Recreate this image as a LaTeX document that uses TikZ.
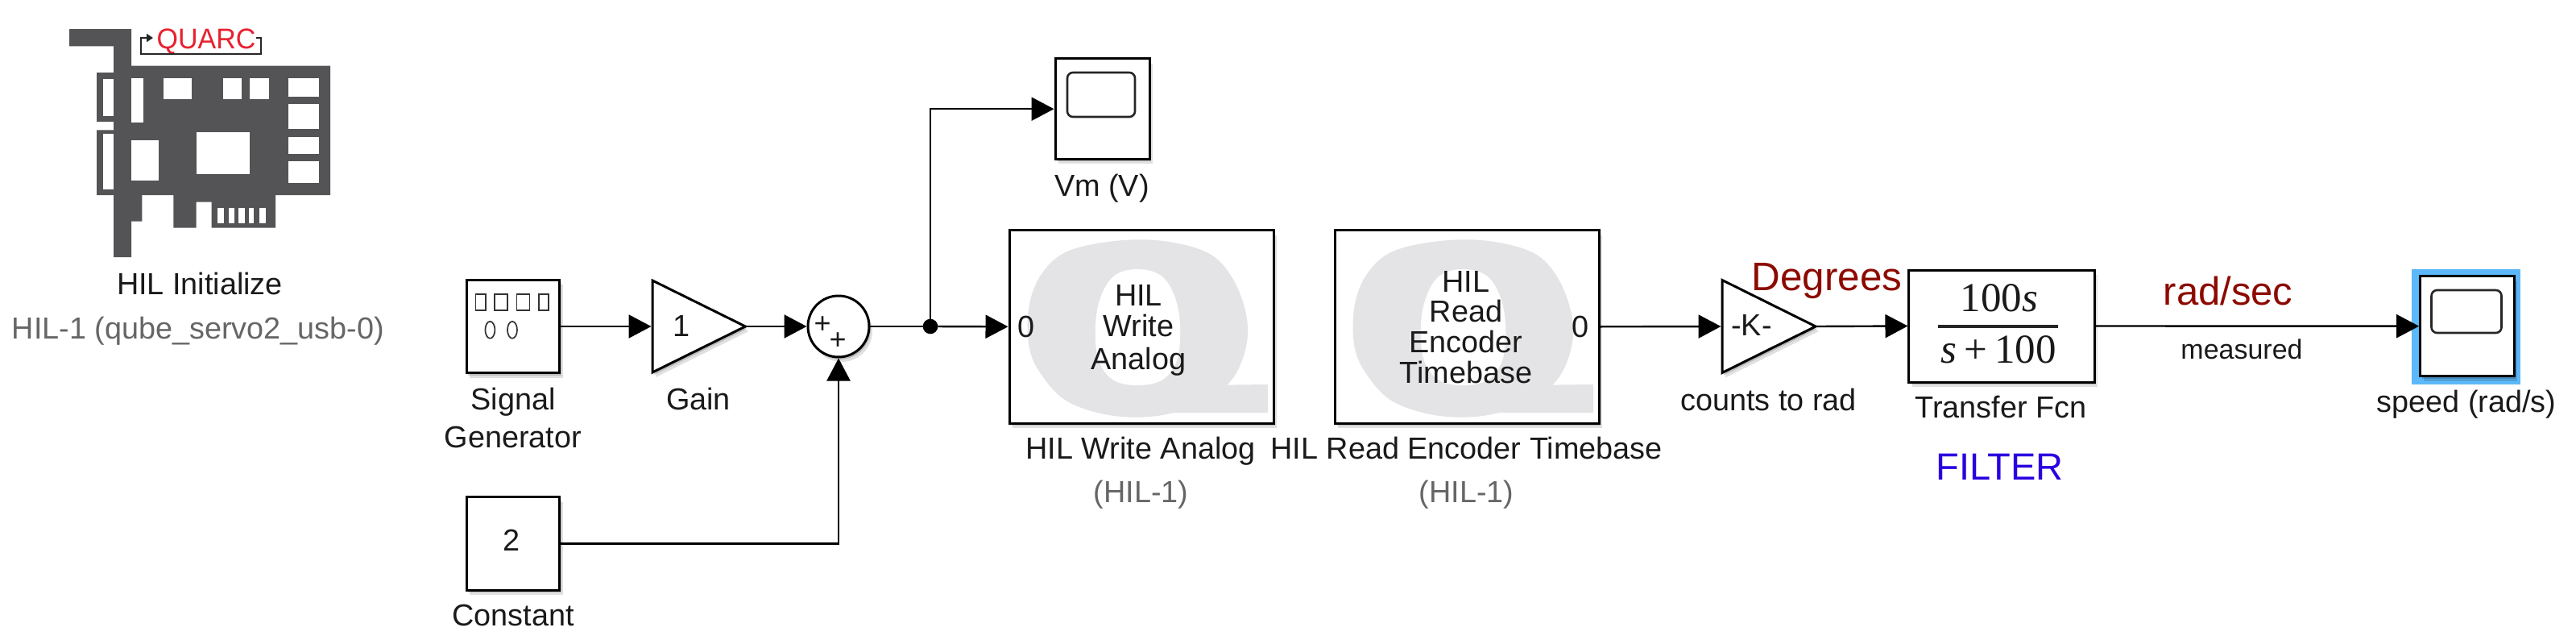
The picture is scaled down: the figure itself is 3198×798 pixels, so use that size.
\documentclass[tikz,border=0pt]{standalone}
\usepackage{fontspec}
\setmainfont{Liberation Sans}
\newfontfamily\serifnum{Liberation Serif}
\usetikzlibrary{arrows.meta,shapes.geometric,shadows}
\definecolor{txt}{HTML}{1A1A1A}
\definecolor{lab}{HTML}{666666}
\definecolor{card}{HTML}{545456}
\definecolor{qgrey}{HTML}{E4E4E6}
\definecolor{dred}{HTML}{8C0A00}
\definecolor{fblue}{HTML}{2A00E0}
\definecolor{sel}{HTML}{5CB8F8}
\definecolor{qred}{HTML}{E8202F}
\newcommand{\fsz}[1]{\fontsize{#1}{#1}\selectfont}
\newcommand{\qlogo}{%
  \fill[qgrey] plot[smooth cycle,tension=.6] coordinates {(1384,299)(1444,299)(1500,314)(1530,345)(1547,390)(1547,430)(1530,470)(1495,498)(1440,515.5)(1380,515.5)(1325,498)(1293,465)(1277.5,430)(1277.5,380)(1293,340)(1325,312)};
  \fill[qgrey] (1490,478)--(1574,477)--(1574,512)--(1430,512)--cycle;
  \fill[white] plot[smooth cycle,tension=.6] coordinates {(1412,334)(1445,345)(1463,385)(1463,440)(1445,470)(1412,478)(1380,470)(1362,440)(1362,385)(1380,345)};}
\tikzset{
  softshadow/.style={general shadow={fill=black,opacity=.16,shadow xshift=2pt,shadow yshift=-3pt},
                     general shadow={fill=black,opacity=.12,shadow xshift=4pt,shadow yshift=-6pt}},
  blockbox/.style={draw=black,fill=white,line width=3pt,inner sep=0pt,outer sep=0pt,softshadow},
  trianglebox/.style={blockbox,isosceles triangle,isosceles triangle stretches,shape border rotate=0,anchor=lower side},
  screenbox/.style={draw=black!85,line width=2.6pt,rounded corners=7pt,inner sep=0pt,outer sep=0pt},
  wire/.style={line width=2.4pt,draw=black},
  arrowwire/.style={wire,-{Triangle[length=28pt,width=29pt]},shorten >=1.5pt},
  caption/.style={font=\fsz{37.8},text=txt,anchor=base,inner sep=0pt,outer sep=0pt},
  capgrey/.style={caption,text=lab},
  glyph/.style={draw=black!80,line width=1.7pt},
  hole/.style={fill=white},
}
\begin{document}
\begin{tikzpicture}[x=1pt,y=-1pt]
\useasboundingbox (0,0) rectangle (3198,798);
% ---------- HIL card icon
\fill[card] (86,36)--(163,36)--(163,81.7)--(410,81.7)--(410,242)--(342,242)--(342,282.7)--(262.5,282.7)
  --(262.5,250.7)--(243.6,250.7)--(243.6,282.7)--(215.4,282.7)--(215.4,242)--(176.4,242)--(176.4,274.7)
  --(163,274.7)--(163,319)--(141,319)--(141,242)--(120,242)--(120,161.3)--(141,161.3)--(141,151)
  --(120,151)--(120,90)--(141,90)--(141,57.3)--(86,57.3)--cycle;
\foreach \a/\b/\c/\d in {128/97.7/141/144,128/166/141/235.3,163/96.7/177.5/152.3,203/96.7/238/123.3,
  277/96.7/300/123.3,310/96.7/333.6/123.3,358/96.7/396.4/120,358/128.7/396.4/160,358/169.7/396.4/191,
  358/200.3/396.4/227.3,244.3/163.7/310.4/216.3,163/174/196.8/224.3,269.6/258.3/277.5/277.3,
  284/258.3/291/277.3,296.4/258.3/303.6/277.3,309/258.3/315/277.3,322/258.3/329.6/277.3}
  {\fill[hole] (\a,\b) rectangle (\c,\d);}
\node[font=\fsz{34},text=qred,anchor=base,inner sep=0pt,yscale=1.04] (quarc) at (256,60) {QUARC};
\coordinate (qa) at (318,47);
\coordinate (qb) at (190,47);
\draw[line width=1.8pt,draw=black!85,-{Triangle[length=8pt,width=10pt]}] (qa)--(324,47)--(324,67)--(174.6,67)--(174.6,47)--(qb);
\node[caption] (hilinit) at (248,365) {HIL Initialize};
\node[capgrey] (hilsub) at (246,420) {HIL-1 (qube\_servo2\_usb-0)};
% ---------- Blocks
\node[blockbox,minimum width=115.6pt,minimum height=115.4pt] (sig) at (636.8,405) {};
\foreach \a/\b in {590.5/603,614/630,641.4/657.5,668.7/681}
  {\draw[glyph] (\a,365) rectangle (\b,385);}
\draw[glyph] (608.4,409.3) ellipse [x radius=6,y radius=10.5];
\draw[glyph] (636,409.3) ellipse [x radius=6,y radius=10.5];
\node[trianglebox,minimum width=114pt,minimum height=115.4pt] (gain) at (810,405) {};
\node[caption] (gainval) at (846,417) {1};
\node[blockbox,circle,minimum size=76pt] (sum) at (1041,405) {};
\node[font=\fsz{36},text=txt,inner sep=0pt] (p1) at (1021,403) {+};
\node[font=\fsz{36},text=txt,inner sep=0pt] (p2) at (1040,423) {+};
\node[blockbox,minimum width=115.6pt,minimum height=115.6pt] (con) at (636.8,674.5) {};
\node[caption] (conval) at (635,683) {2};
\node[blockbox,minimum width=117pt,minimum height=124.5pt] (vm) at (1368.5,135.2) {};
\node[screenbox,minimum width=84pt,minimum height=55pt] (vmscreen) at (1367,117.5) {};
\node[blockbox,minimum width=328pt,minimum height=239.4pt] (hw) at (1417,405.3) {};
\qlogo
\node[blockbox,minimum width=328pt,minimum height=239.4pt] (hr) at (1821,405.3) {};
\begin{scope}[shift={(404,0)}]\qlogo\end{scope}
\node[caption] (hw0) at (1273.5,418) {0};
\node[caption] (hwl1) at (1413.5,379.5) {HIL};
\node[caption] (hwl2) at (1413.5,417) {Write};
\node[caption] (hwl3) at (1413.5,458) {Analog};
\node[caption] (hr0) at (1962,418) {0};
\node[caption] (hrl1) at (1820,362) {HIL};
\node[caption] (hrl2) at (1820,399.4) {Read};
\node[caption] (hrl3) at (1820,437.7) {Encoder};
\node[caption] (hrl4) at (1820,475) {Timebase};
\node[trianglebox,minimum width=115pt,minimum height=116pt] (kgain) at (2138,405) {};
\node[caption] (kval) at (2174.5,416.7) {-K-};
\node[blockbox,minimum width=230.5pt,minimum height=139pt] (tf) at (2485.2,404.5) {};
\node[anchor=base,inner sep=0pt,font=\serifnum\fsz{51},text=txt] (num) at (2482,386.7) {100\textit{s}};
\node[anchor=base,inner sep=0pt,font=\serifnum\fsz{51},text=txt] (den) at (2481,450) {\textit{s}\hspace{9pt}+\hspace{9pt}100};
\coordinate (fa) at (2406,405);
\coordinate (fb) at (2555,405);
\draw[line width=4.2pt,draw=black!85] (fa)--(fb);
\fill[sel] (2994,334) rectangle (3129,477);
\node[blockbox,minimum width=116.4pt,minimum height=124pt] (sp) at (3062.8,404.7) {};
\node[screenbox,minimum width=87pt,minimum height=53pt] (spscreen) at (3062,386.5) {};
% ---------- Connectors
\node[circle,fill=black,inner sep=0pt,outer sep=0pt,minimum size=18.6pt] (jn) at (1155,405) {};
\draw[arrowwire] (sig.east)--(gain.lower side);
\draw[arrowwire] (gain.apex)--(sum.west);
\draw[wire] (sum.east)--(jn);
\draw[arrowwire] (jn)--(hw.west);
\draw[arrowwire] (jn.center)|-(vm.west);
\draw[arrowwire] (con.east)-|(sum.south);
\draw[arrowwire] (hr.east)--(kgain.lower side);
\draw[arrowwire] (kgain.apex)--(tf.west);
\draw[arrowwire] (tf.east)--(sp.west);
% ---------- Labels
\node[caption] (siglab) at (637,508) {Signal};
\node[caption] (siglab2) at (637,555) {Generator};
\node[caption] (gainlab) at (867,508) {Gain};
\node[caption] (conlab) at (637,776.7) {Constant};
\node[caption] (vmlab) at (1368,243.5) {Vm (V)};
\node[caption] (hwlab) at (1416,569) {HIL Write Analog};
\node[capgrey] (hwsub) at (1416.5,623) {(HIL-1)};
\node[caption] (hrlab) at (1820.6,569) {HIL Read Encoder Timebase};
\node[capgrey] (hrsub) at (1820.6,623) {(HIL-1)};
\node[caption] (klab) at (2195.7,509) {counts to rad};
\node[caption] (tflab) at (2484,518) {Transfer Fcn};
\node[caption] (splab) at (3062,511.7) {speed (rad/s)};
\node[caption,font=\fsz{49.4},text=dred] (deg) at (2268,360) {Degrees};
\node[caption,font=\fsz{49},text=dred] (rads) at (2766,378) {rad/sec};
\node[caption,font=\fsz{34}] (meas) at (2783,445) {measured};
\node[caption,font=\fsz{47},text=fblue] (filt) at (2482.6,595) {FILTER};
\end{tikzpicture}
\end{document}
